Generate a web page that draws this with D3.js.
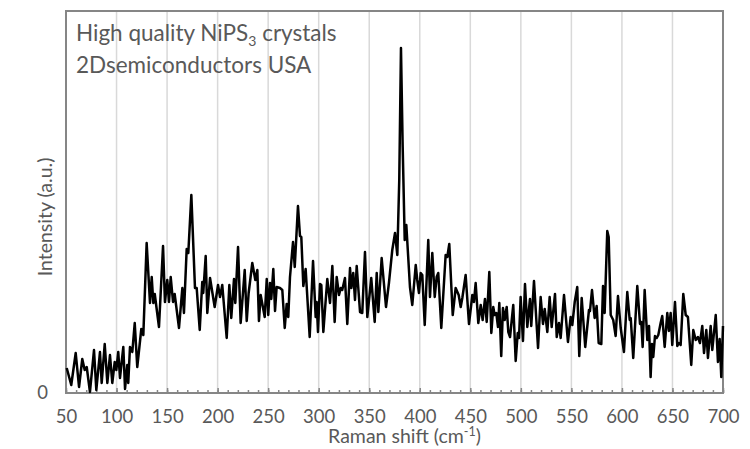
<!DOCTYPE html>
<html>
<head>
<meta charset="utf-8">
<script src="https://cdn.jsdelivr.net/npm/d3@7"></script>
<style>
  body { margin: 0; background: #fff; }
  svg text { font-family: Lato, "Open Sans", sans-serif; fill: #595959; }
</style>
</head>
<body>
<svg id="chart" width="750" height="449"></svg>
<script>

// Raman spectrum (intensity in arbitrary units)
var ramanShift = [
  50.7, 55.2, 59.6, 62.9, 66.1, 68.5, 70.5, 73.7, 77.7, 80, 83.6, 85.3, 88.3, 90.9, 93.5, 95.8, 98.2, 99.8,
  101.7, 103.4, 106.7, 108.4, 110.6, 111.6, 113.3, 115.6, 118, 120.5, 124.5, 126.5, 129.8, 133.1, 134.8,
  136.4, 137.8, 142, 146, 147.9, 150.2, 151.9, 153.6, 155.9, 157.5, 161.8, 165.1, 166.7, 169.4, 171, 174,
  177.6, 179.3, 182.3, 184.8, 185.8, 188.2, 189.8, 192.5, 197.1, 200.4, 202.4, 204.6, 209, 211.6, 213.5,
  216.2, 217.5, 220.2, 222.8, 226.8, 228.8, 230.7, 234.3, 237.3, 239.3, 240.9, 242.6, 246.6, 248.6, 250.1,
  251.8, 253.1, 255.1, 256.8, 258.4, 261.7, 264, 266.4, 268.3, 269.9, 271.6, 274.6, 276.3, 279.5, 281.5,
  282.8, 284.8, 287.1, 291.1, 294.4, 297, 298, 299.3, 301.3, 302.6, 304.6, 308.5, 311.2, 313.5, 315.8,
  317.8, 320.1, 321.8, 323.3, 326, 328.3, 331, 332.3, 334.2, 335.9, 337.6, 340.9, 343.1, 345.8, 348.1,
  352, 355.4, 357.4, 359, 362.3, 366.6, 369.5, 372.8, 375.5, 377.8, 379.7, 381.4, 383.1, 385.1, 386.7,
  390.3, 392.6, 396, 397.5, 399.2, 400.9, 402.5, 404.9, 408.4, 410.1, 412.4, 414.8, 416.7, 418.3, 421.3,
  425.6, 427.2, 429.2, 432.6, 435.5, 438.5, 440.5, 442.1, 445.4, 448.7, 452, 453.6, 455.3, 457.9, 460.3,
  462.2, 464.5, 466.2, 468.8, 470.8, 472.7, 474.1, 475.7, 477.4, 478.7, 480.6, 482.3, 484, 486, 487.6,
  489.3, 492.5, 494.9, 496.9, 498.2, 499.8, 502.1, 504.1, 506.4, 509, 510.3, 513, 517, 519.6, 521.9,
  523.6, 526.2, 528.5, 530.5, 533.8, 535.5, 537.7, 539.4, 542.7, 546.6, 549.3, 550.9, 553.3, 555.8, 557.8,
  560.2, 563.7, 567.4, 568.4, 570.4, 573, 575, 577, 579.6, 581.3, 582.9, 585.5, 586.9, 588.9, 591.4,
  593.8, 596.1, 598.8, 602, 605.3, 607.7, 608.7, 611.2, 615.2, 617.9, 619.2, 620.5, 622.5, 625.1, 626.8,
  628.4, 629.7, 631, 632.7, 634.4, 636, 638.3, 639.9, 642.3, 644.9, 646.5, 648.2, 649.8, 652.5, 654.8,
  656.4, 658.1, 660.7, 663.1, 665.3, 668.6, 670.6, 673, 675.2, 677.2, 679.5, 681.2, 683.5, 685.1, 687.8,
  689.4, 692.8, 695, 696.7, 698.3, 700
];
var intensity = [
  25, 8, 40, 6, 34, 23, 26, 1, 43, 3, 41, 10, 49, 10, 38, 10, 31, 23,
  41, 15, 46, 4, 28, 10, 46, 41, 70, 26, 64, 58, 150, 90, 116,
  90, 99, 66, 147, 91, 113, 91, 116, 91, 99, 65, 105, 80, 144, 140, 198,
  105, 105, 63, 111, 100, 137, 80, 115, 86, 108, 96, 108, 55, 108, 75,
  114, 90, 146, 70, 123, 72, 100, 130, 113, 123, 72, 98, 76, 114, 78,
  110, 94, 124, 82, 106, 105, 103, 65, 89, 76, 116, 151, 126, 187, 157,
  156, 107, 124, 56, 132, 76, 91, 61, 109, 108, 61, 114, 90, 127, 71,
  116, 98, 105, 103, 115, 69, 125, 105, 120, 93, 127, 81, 80, 141, 76,
  115, 71, 120, 81, 135, 86, 110, 143, 160, 138, 213, 345, 246, 153, 168,
  106, 88, 128, 113, 100, 120, 118, 68, 153, 96, 140, 96, 116, 120, 65,
  138, 136, 149, 78, 105, 98, 86, 95, 118, 69, 98, 91, 110, 70, 88,
  73, 94, 71, 121, 60, 86, 78, 80, 66, 90, 37, 85, 73, 86, 61,
  56, 88, 32, 60, 55, 96, 52, 109, 66, 94, 67, 112, 45, 96, 69,
  84, 61, 96, 66, 99, 56, 70, 55, 98, 51, 76, 68, 91, 106, 37,
  95, 46, 83, 82, 103, 75, 87, 50, 49, 107, 80, 162, 156, 78, 73,
  57, 97, 65, 41, 101, 73, 75, 35, 107, 69, 71, 46, 103, 53, 67,
  16, 49, 36, 57, 55, 58, 70, 77, 46, 80, 62, 80, 48, 91, 47,
  50, 48, 99, 78, 76, 28, 63, 53, 56, 50, 67, 40, 63, 35, 67,
  43, 78, 31, 54, 16, 67
];

var xTicks = [50, 100, 150, 200, 250, 300, 350, 400, 450, 500, 550, 600, 650, 700];
var xMinorTicks = d3.range(50, 701, 10);
var yTicks = [0];
var titleLines = ["High quality NiPS", "2Dsemiconductors USA"];

var svg = d3.select("#chart");
var margin = {top: 11, right: 27, bottom: 56, left: 66};
var width = +svg.attr("width") - margin.left - margin.right,
    height = +svg.attr("height") - margin.top - margin.bottom;
var g = svg.append("g").attr("transform", "translate(" + margin.left + "," + margin.top + ")");

var x = d3.scaleLinear().domain([50, 700]).range([0, width]);
var y = d3.scaleLinear().domain([0, 382]).range([height, 0]);

// vertical gridlines
g.append("g").selectAll("line")
  .data(xTicks.slice(1, -1))
  .enter().append("line")
    .attr("x1", function(d) { return x(d); })
    .attr("x2", function(d) { return x(d); })
    .attr("y1", 0)
    .attr("y2", height)
    .attr("stroke", "#d9d9d9")
    .attr("stroke-width", 1.5);

// minor ticks (pointing in)
var minor = g.append("g")
  .attr("transform", "translate(0," + height + ")")
  .call(d3.axisBottom(x).tickValues(xMinorTicks).tickSize(-3).tickFormat(""));
minor.select(".domain").remove();
minor.selectAll("line").attr("stroke", "#868686").attr("stroke-width", 1.5);

// major ticks + labels
var xaxis = g.append("g")
  .attr("transform", "translate(0," + height + ")")
  .call(d3.axisBottom(x).tickValues(xTicks).tickSize(-5).tickPadding(17).tickFormat(d3.format("d")));
xaxis.select(".domain").remove();
xaxis.selectAll("line").attr("stroke", "#868686").attr("stroke-width", 1.5);
xaxis.selectAll("text").style("font-size", "18.5px").style("fill", "#595959");

var yaxis = g.append("g")
  .call(d3.axisLeft(y).tickValues(yTicks).tickSize(0).tickPadding(18));
yaxis.select(".domain").remove();
yaxis.selectAll("text").style("font-size", "18.5px").style("fill", "#595959");

// plot frame
g.append("rect")
  .attr("x", 0).attr("y", 0)
  .attr("width", width).attr("height", height)
  .attr("fill", "none")
  .attr("stroke", "#868686")
  .attr("stroke-width", 2);

// spectrum
var line = d3.line()
  .x(function(d, i) { return x(ramanShift[i]); })
  .y(function(d) { return y(d); });

g.append("path")
  .datum(intensity)
  .attr("d", line)
  .attr("fill", "none")
  .attr("stroke", "#000")
  .attr("stroke-width", 2.5)
  .attr("stroke-linejoin", "round");

// title inside the plot
var t1 = g.append("text")
  .attr("x", 10).attr("y", 30)
  .style("font-size", "22.5px");
t1.append("tspan").text(titleLines[0]);
t1.append("tspan").text("3").attr("dy", 5).style("font-size", "14px");
t1.append("tspan").text(" crystals").attr("dy", -5);

g.append("text")
  .attr("x", 10).attr("y", 62)
  .style("font-size", "22.5px")
  .text(titleLines[1]);

// axis titles
var xt = svg.append("text")
  .attr("text-anchor", "middle")
  .attr("x", margin.left + width / 2 + 10)
  .attr("y", 443)
  .style("font-size", "19.5px");
xt.append("tspan").text("Raman shift (cm");
xt.append("tspan").text("-1").attr("dy", -7).style("font-size", "12.5px");
xt.append("tspan").text(")").attr("dy", 7);

svg.append("text")
  .attr("text-anchor", "middle")
  .attr("transform", "translate(52," + 217 + ")rotate(-90)")
  .style("font-size", "19.5px")
  .text("Intensity (a.u.)");

</script>
</body>
</html>
